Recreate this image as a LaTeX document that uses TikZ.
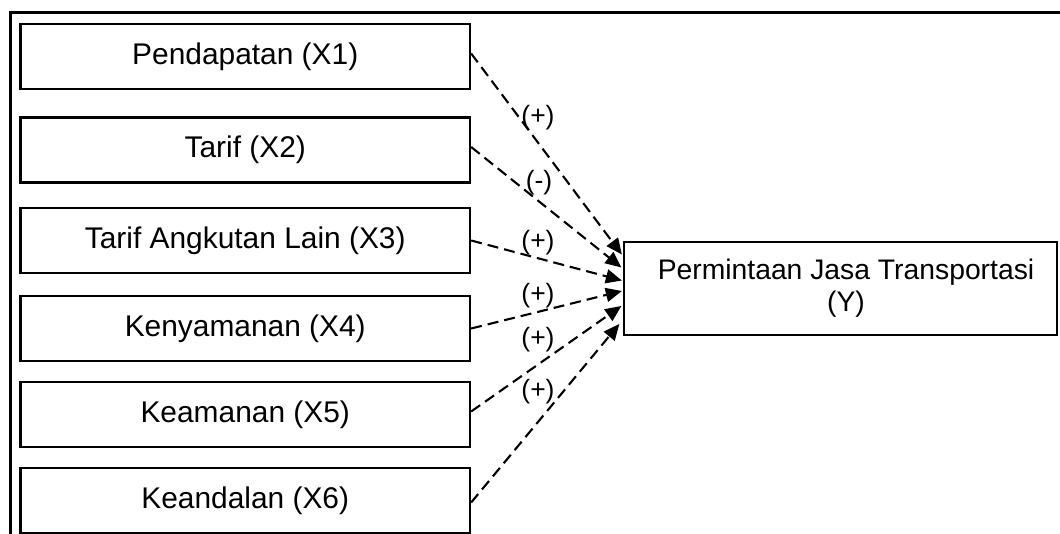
\documentclass[tikz,border=0pt]{standalone}
\usepackage{fontspec}
\setmainfont{Liberation Sans}
\usetikzlibrary{arrows.meta,calc}
\begin{document}
\begin{tikzpicture}[x=1pt,y=-1pt,
  xbox/.style={draw=black,line width=2.3pt,minimum width=449.5pt,minimum height=65pt,
    inner sep=0pt,font=\fontsize{29.9}{34}\selectfont,anchor=center},
  ybox/.style={draw=black,line width=2.3pt,minimum width=433pt,minimum height=93pt,
    inner sep=0pt,align=center,font=\fontsize{28.3}{32}\selectfont},
  sign/.style={inner sep=0pt,font=\fontsize{26.5}{30}\selectfont},
  link/.style={line width=2.1pt,dash pattern=on 11pt off 6pt,
    -{Triangle[length=16pt,width=14pt]}},
  frame/.style={line width=3pt}]
\useasboundingbox (0,0) rectangle (1060,534);
% outer frame (top and left only)
\coordinate (fa) at (1060,13);
\coordinate (fb) at (10,13);
\coordinate (fc) at (10,534);
\draw[frame] (fa) -- (fb) -- (fc);
% factor boxes
\node[xbox] (x1) at (245.25,56.5) {Pendapatan (X1)};
\node[xbox] (x2) at (245.25,150) {Tarif (X2)};
\node[xbox] (x3) at (245.25,240.5) {Tarif Angkutan Lain (X3)};
\node[xbox] (x4) at (245.25,328.5) {Kenyamanan (X4)};
\node[xbox] (x5) at (245.25,414.5) {Keamanan (X5)};
\node[xbox] (x6) at (245.25,500.5) {Keandalan (X6)};
% target box
\node[ybox] (y) at (840.5,288.5) {\hspace*{11pt}Permintaan Jasa Transportasi\\\hspace*{11pt}(Y)};
% connectors
\draw[link] ([yshift=3pt]x1.east) -- ([xshift=-1pt,yshift=34pt]y.west);
\draw[link] ([yshift=3pt]x2.east) -- ([xshift=-1.5pt,yshift=21pt]y.west);
\draw[link] (x3.east) -- ([xshift=-1pt,yshift=8pt]y.west);
\draw[link] (x4.east) -- ([xshift=-1pt,yshift=-2.5pt]y.west);
\draw[link] ([yshift=3pt]x5.east) -- ([xshift=-1.5pt,yshift=-17.5pt]y.west);
\draw[link] ([yshift=-2pt]x6.east) -- ([xshift=-3.5pt,yshift=-35.5pt]y.west);
% signs
\node[sign] (l1) at (538,117.5) {(+)};
\node[sign] (l2) at (539,182.5) {(-)};
\node[sign] (l3) at (538,243) {(+)};
\node[sign] (l4) at (538,295.5) {(+)};
\node[sign] (l5) at (538,340) {(+)};
\node[sign] (l6) at (538,392) {(+)};
\end{tikzpicture}
\end{document}
